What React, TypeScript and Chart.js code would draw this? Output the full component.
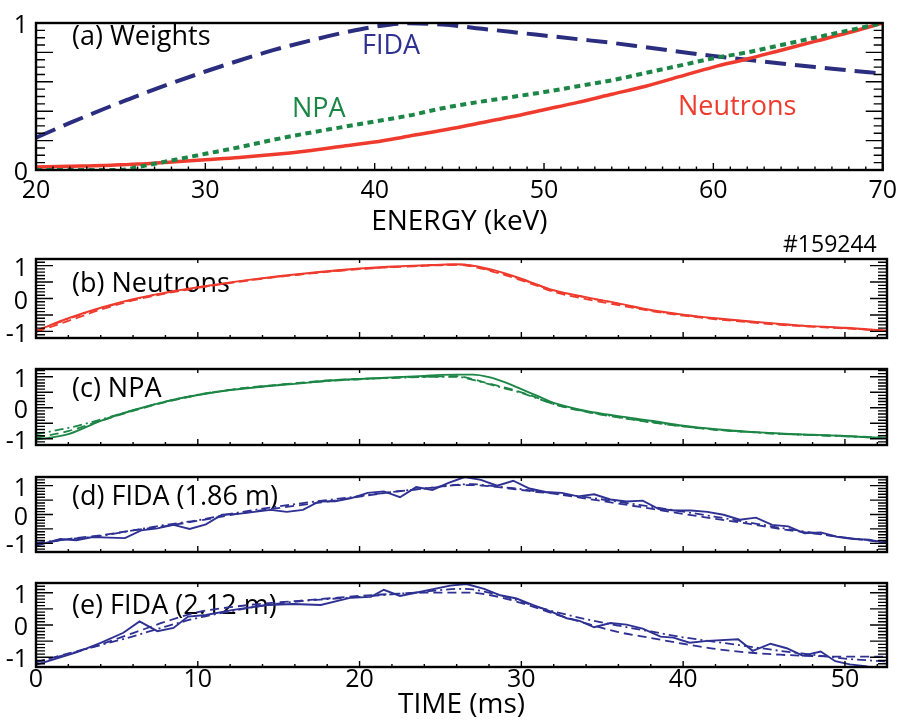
import React, { useEffect, useRef } from "react";
import { Chart, registerables } from "chart.js";
Chart.register(...registerables);

const FONT = '"Open Sans", "DejaVu Sans", sans-serif';
const RED = "#ee3b2d";
const GREEN = "#1c8646";
const NAVY = "#2e3192";
const NAVY_A = "#2b2e7e";

// ---------- Panel (a): weight functions vs energy ----------
const energy = [20, 22, 24, 25, 26, 28, 30, 32, 34, 36, 38, 40, 42, 44, 46, 48, 50, 52, 54, 56, 58, 60, 62, 64, 66, 68, 70];
const fidaWeight = [0.22, 0.32, 0.415, 0.46, 0.505, 0.59, 0.67, 0.745, 0.815, 0.875, 0.93, 0.975, 0.998, 0.99, 0.965, 0.94, 0.915, 0.89, 0.865, 0.835, 0.805, 0.775, 0.75, 0.725, 0.7, 0.678, 0.656];
const npaWeight = [0, 0, 0, 0, 0.02, 0.065, 0.11, 0.155, 0.205, 0.25, 0.29, 0.33, 0.37, 0.42, 0.46, 0.495, 0.53, 0.57, 0.61, 0.66, 0.71, 0.76, 0.8, 0.85, 0.9, 0.95, 1.0];
const neutronWeight = [0.02, 0.025, 0.03, 0.035, 0.04, 0.055, 0.07, 0.085, 0.105, 0.13, 0.16, 0.19, 0.23, 0.27, 0.315, 0.36, 0.41, 0.46, 0.515, 0.57, 0.635, 0.7, 0.755, 0.815, 0.875, 0.935, 1.0];
const energyTicks = [20, 30, 40, 50, 60, 70];
const weightTicks = [0, 1];

// ---------- Panels (b)-(e): normalized signals vs time ----------
const timeGrid = [0, 2, 4, 6, 8, 10, 12, 14, 16, 18, 20, 22, 24, 25, 26, 27, 28, 29, 30, 31, 32, 34, 36, 38, 40, 42, 44, 46, 48, 50, 52.6];

const neutronSolid = [-0.98, -0.6, -0.28, -0.02, 0.18, 0.34, 0.49, 0.62, 0.73, 0.83, 0.91, 0.97, 1.01, 1.03, 1.04, 1.0, 0.9, 0.76, 0.6, 0.42, 0.25, 0.04, -0.15, -0.35, -0.49, -0.6, -0.69, -0.77, -0.84, -0.89, -0.98];
const neutronDash = [-1.02, -0.68, -0.34, -0.06, 0.15, 0.32, 0.47, 0.6, 0.71, 0.81, 0.89, 0.95, 0.99, 1.01, 1.02, 0.97, 0.85, 0.71, 0.55, 0.38, 0.2, -0.02, -0.2, -0.38, -0.52, -0.63, -0.72, -0.8, -0.86, -0.91, -0.99];
const neutronDashDot = [-0.98, -0.62, -0.3, -0.04, 0.17, 0.33, 0.48, 0.61, 0.72, 0.82, 0.9, 0.96, 1.0, 1.02, 1.03, 0.99, 0.87, 0.74, 0.58, 0.41, 0.23, 0.03, -0.16, -0.36, -0.5, -0.61, -0.7, -0.78, -0.85, -0.9, -0.98];

const npaSolid = [-1.03, -0.85, -0.42, -0.08, 0.2, 0.41, 0.57, 0.68, 0.77, 0.87, 0.93, 0.98, 1.03, 1.06, 1.07, 1.07, 0.99, 0.82, 0.6, 0.38, 0.16, -0.1, -0.27, -0.42, -0.58, -0.69, -0.77, -0.83, -0.87, -0.91, -0.98];
const npaDash = [-0.97, -0.75, -0.42, -0.1, 0.18, 0.41, 0.58, 0.7, 0.79, 0.88, 0.93, 0.97, 1.0, 1.01, 1.02, 0.92, 0.78, 0.65, 0.5, 0.32, 0.12, -0.13, -0.31, -0.47, -0.6, -0.71, -0.78, -0.84, -0.88, -0.91, -0.97];
const npaDashDot = [-0.85, -0.65, -0.38, -0.08, 0.2, 0.42, 0.58, 0.69, 0.78, 0.86, 0.92, 0.96, 0.99, 1.0, 1.0, 0.9, 0.76, 0.62, 0.48, 0.3, 0.12, -0.12, -0.3, -0.46, -0.6, -0.7, -0.78, -0.84, -0.88, -0.92, -0.98];

const fidaDTime = [0, 1.5, 2.5, 3.5, 4.5, 5.5, 6.5, 7.5, 8.5, 9.5, 10.5, 11.5, 12.5, 13.5, 14.5, 15.5, 16.5, 17.5, 18.5, 19.5, 20.5, 21.5, 22.5, 23.5, 24.5, 25.5, 26.5, 27.5, 28.5, 29.5, 30.5, 31.5, 32.5, 33.5, 34.5, 35.5, 36.5, 37.5, 38.5, 39.5, 40.5, 41.5, 42.5, 43.5, 44.5, 45.5, 46.5, 47.5, 48.5, 49.5, 50.5, 51.5, 52.5];
const fidaDSolid = [-1.08, -0.85, -0.89, -0.78, -0.8, -0.82, -0.55, -0.48, -0.36, -0.5, -0.34, -0.01, 0.02, 0.09, 0.16, 0.09, 0.16, 0.45, 0.46, 0.57, 0.75, 0.8, 0.6, 0.95, 0.85, 1.1, 1.3, 1.2, 1.0, 1.17, 0.9, 0.78, 0.75, 0.63, 0.7, 0.52, 0.45, 0.48, 0.19, 0.14, 0.14, 0.09, -0.01, -0.18, -0.11, -0.36, -0.41, -0.65, -0.62, -0.77, -0.85, -0.87, -0.99];
const fidaDDash = [-1.05, -0.85, -0.72, -0.55, -0.4, -0.22, -0.02, 0.15, 0.3, 0.45, 0.62, 0.78, 0.9, 0.97, 1.02, 1.02, 0.98, 0.92, 0.85, 0.78, 0.72, 0.55, 0.38, 0.2, 0.02, -0.15, -0.32, -0.5, -0.65, -0.8, -0.98];
const fidaDDashDot = [-0.98, -0.86, -0.74, -0.55, -0.36, -0.2, 0.02, 0.2, 0.36, 0.5, 0.64, 0.78, 0.9, 0.96, 1.03, 1.05, 1.0, 0.94, 0.88, 0.8, 0.74, 0.6, 0.44, 0.27, 0.1, -0.08, -0.27, -0.46, -0.63, -0.8, -0.95];

const fidaETime = [0, 2.5, 4, 5.4, 6.4, 7.5, 8.5, 9.4, 10.5, 12.2, 14.3, 15.9, 17.6, 19.4, 20.7, 21.5, 22.5, 23.7, 25.6, 26.6, 27.7, 28.7, 29.7, 30.7, 31.8, 32.8, 33.6, 34.5, 35.5, 36.5, 37.5, 38.6, 39.4, 40.4, 41.5, 43.4, 44.3, 45.4, 46.4, 47.4, 48.5, 49.4, 50.3, 51.4];
const fidaESolid = [-1.23, -0.85, -0.55, -0.24, 0.11, -0.19, -0.09, 0.26, 0.31, 0.47, 0.62, 0.65, 0.62, 0.84, 0.87, 1.09, 0.9, 1.02, 1.22, 1.27, 1.12, 0.92, 0.82, 0.62, 0.42, 0.21, 0.13, -0.07, 0.06, 0.01, -0.11, -0.36, -0.39, -0.55, -0.49, -0.44, -0.8, -0.58, -0.72, -0.95, -0.82, -1.12, -1.22, -1.28];
const fidaEDash = [-1.15, -0.88, -0.6, -0.25, 0.1, 0.4, 0.55, 0.66, 0.74, 0.82, 0.9, 0.96, 1.0, 1.0, 1.0, 1.0, 0.93, 0.82, 0.68, 0.52, 0.35, 0.05, -0.22, -0.4, -0.58, -0.74, -0.85, -0.92, -0.96, -0.98, -0.98];
const fidaEDashDot = [-1.15, -0.9, -0.62, -0.35, -0.05, 0.22, 0.42, 0.6, 0.72, 0.8, 0.87, 0.95, 1.03, 1.08, 1.12, 1.1, 1.0, 0.88, 0.72, 0.56, 0.42, 0.18, -0.02, -0.2, -0.38, -0.52, -0.66, -0.8, -0.92, -1.04, -1.13];

const timeTicks = [0, 10, 20, 30, 40, 50];
const signalTicks = [-1, 0, 1];

// ---------- helpers ----------
const pts = (xs: number[], ys: number[]) => xs.map((x, i) => ({ x, y: ys[i] }));

const DASH = [9, 5];
const DASHDOT = [9, 4, 2, 4];

function line(xs: number[], ys: number[], color: string, width: number, dash: number[], smooth: boolean) {
  return {
    data: pts(xs, ys),
    borderColor: color,
    borderWidth: width,
    borderDash: dash,
    pointRadius: 0,
    fill: false,
    tension: 0,
    cubicInterpolationMode: smooth ? "monotone" : "default",
  };
}

function triple(t: number[], solid: number[], tS: number[], dash: number[], dashdot: number[], color: string, smoothSolid: boolean) {
  return [
    line(t, dashdot, color, 1.8, DASHDOT, true),
    line(t, dash, color, 1.8, DASH, true),
    line(tS, solid, color, 1.9, [], smoothSolid),
  ];
}

type Txt = { text: string; x: number; y: number; color: string; size: number };

type Panel = {
  top: number;
  height: number;
  area: { left: number; right: number; top: number; bottom: number };
  xmin: number; xmax: number; ymin: number; ymax: number;
  xTicks: number[]; yTicks: number[];
  showX: boolean; xTitle?: string; xPad: number; titlePad: number;
  xMajor: number; xMinor: number; yMajor: number; yMinor: number;
  yMajLen: number; yMinLen: number; xMajLen: number; xMinLen: number; topTicks: boolean;
  datasets: any[];
  texts: Txt[];
};

const W = 903;
const LABEL = 27;

const panels: Panel[] = [
  {
    top: 0, height: 239,
    area: { left: 36, right: 887, top: 15, bottom: 170 },
    xmin: 20, xmax: 70, ymin: 0, ymax: 1,
    xTicks: energyTicks, yTicks: weightTicks,
    showX: true, xTitle: "ENERGY (keV)", xPad: 6, titlePad: 0,
    xMajor: 10, xMinor: 1, yMajor: 0.2, yMinor: 0.05,
    yMajLen: 17, yMinLen: 9, xMajLen: 7, xMinLen: 3.5, topTicks: false,
    datasets: [
      line(energy, npaWeight, GREEN, 4, [6, 4.5], true),
      line(energy, neutronWeight, RED, 3.5, [], true),
      line(energy, fidaWeight, NAVY_A, 4, [21, 9], true),
    ],
    texts: [
      { text: "(a) Weights", x: 72, y: 44.5, color: "#000", size: LABEL },
      { text: "FIDA", x: 362, y: 53.5, color: NAVY, size: LABEL },
      { text: "NPA", x: 292, y: 116.5, color: GREEN, size: LABEL },
      { text: "Neutrons", x: 678, y: 115, color: RED, size: LABEL },
    ],
  },
  {
    top: 226, height: 135,
    area: { left: 36, right: 887, top: 33, bottom: 119 },
    xmin: 0, xmax: 52.6, ymin: -1.2, ymax: 1.2,
    xTicks: timeTicks, yTicks: signalTicks,
    showX: false, xPad: 0, titlePad: 0,
    xMajor: 10, xMinor: 2, yMajor: 0.5, yMinor: 0.1,
    yMajLen: 17, yMinLen: 9, xMajLen: 6, xMinLen: 3, topTicks: true,
    datasets: triple(timeGrid, neutronSolid, timeGrid, neutronDash, neutronDashDot, RED, true),
    texts: [
      { text: "(b) Neutrons", x: 72, y: 292, color: "#000", size: LABEL },
      { text: "#159244", x: 783, y: 252, color: "#000", size: 23 },
    ],
  },
  {
    top: 346, height: 122,
    area: { left: 36, right: 887, top: 20, bottom: 106 },
    xmin: 0, xmax: 52.6, ymin: -1.2, ymax: 1.25,
    xTicks: timeTicks, yTicks: signalTicks,
    showX: false, xPad: 0, titlePad: 0,
    xMajor: 10, xMinor: 2, yMajor: 0.5, yMinor: 0.1,
    yMajLen: 17, yMinLen: 9, xMajLen: 6, xMinLen: 3, topTicks: true,
    datasets: triple(timeGrid, npaSolid, timeGrid, npaDash, npaDashDot, GREEN, true),
    texts: [{ text: "(c) NPA", x: 72, y: 397, color: "#000", size: LABEL }],
  },
  {
    top: 454, height: 121,
    area: { left: 36, right: 887, top: 20, bottom: 105 },
    xmin: 0, xmax: 52.6, ymin: -1.3, ymax: 1.3,
    xTicks: timeTicks, yTicks: signalTicks,
    showX: false, xPad: 0, titlePad: 0,
    xMajor: 10, xMinor: 2, yMajor: 0.5, yMinor: 0.1,
    yMajLen: 17, yMinLen: 9, xMajLen: 6, xMinLen: 3, topTicks: true,
    datasets: triple(timeGrid, fidaDSolid, fidaDTime, fidaDDash, fidaDDashDot, NAVY, false),
    texts: [{ text: "(d) FIDA (1.86 m)", x: 72, y: 505, color: "#000", size: LABEL }],
  },
  {
    top: 560, height: 162,
    area: { left: 36, right: 887, top: 20, bottom: 107 },
    xmin: 0, xmax: 52.6, ymin: -1.3, ymax: 1.3,
    xTicks: timeTicks, yTicks: signalTicks,
    showX: true, xTitle: "TIME (ms)", xPad: -2, titlePad: 0,
    xMajor: 10, xMinor: 2, yMajor: 0.5, yMinor: 0.1,
    yMajLen: 17, yMinLen: 9, xMajLen: 6, xMinLen: 3, topTicks: true,
    datasets: triple(timeGrid, fidaESolid, fidaETime, fidaEDash, fidaEDashDot, NAVY, false),
    texts: [{ text: "(e) FIDA (2.12 m)", x: 72, y: 613.5, color: "#000", size: LABEL }],
  },
];

function steps(min: number, max: number, step: number) {
  const out: number[] = [];
  const k0 = Math.ceil(min / step - 1e-9);
  const k1 = Math.floor(max / step + 1e-9);
  for (let k = k0; k <= k1; k++) out.push(k * step);
  return out;
}
const isMul = (v: number, m: number) => Math.abs(v / m - Math.round(v / m)) < 1e-6;

function framePlugin(p: Panel) {
  return {
    id: "frameTicks",
    beforeDatasetsDraw(chart: any) {
      const ctx = chart.ctx;
      ctx.save();
      for (const t of p.texts) {
        ctx.font = `${t.size}px ${FONT}`;
        ctx.fillStyle = t.color;
        ctx.textAlign = "left";
        ctx.textBaseline = "alphabetic";
        ctx.fillText(t.text, t.x, t.y - p.top);
      }
      ctx.restore();
    },
    afterDatasetsDraw(chart: any) {
      const { ctx, chartArea: a } = chart;
      const xs = chart.scales.x;
      const ys = chart.scales.y;
      ctx.save();
      ctx.strokeStyle = "#000";
      ctx.lineWidth = 1.4;
      ctx.beginPath();
      for (const v of steps(p.ymin, p.ymax, p.yMinor)) {
        const len = isMul(v, p.yMajor) ? p.yMajLen : p.yMinLen;
        const py = ys.getPixelForValue(v);
        ctx.moveTo(a.left, py);
        ctx.lineTo(a.left + len, py);
        ctx.moveTo(a.right, py);
        ctx.lineTo(a.right - len, py);
      }
      for (const v of steps(p.xmin, p.xmax, p.xMinor)) {
        const major = isMul(v, p.xMajor);
        const len = major ? p.xMajLen : p.xMinLen;
        const px = xs.getPixelForValue(v);
        ctx.moveTo(px, a.bottom);
        ctx.lineTo(px, a.bottom - len);
        if (p.topTicks && major) {
          ctx.moveTo(px, a.top);
          ctx.lineTo(px, a.top + 4);
        }
      }
      ctx.stroke();
      ctx.lineWidth = 2.4;
      ctx.strokeRect(a.left, a.top, a.right - a.left, a.bottom - a.top);
      ctx.restore();
    },
  };
}

function makeChart(canvas: HTMLCanvasElement, p: Panel) {
  const tickFont = { family: FONT, size: 25 };
  return new Chart(canvas, {
    type: "line",
    data: { datasets: p.datasets },
    options: {
      animation: false,
      responsive: false,
      devicePixelRatio: 1,
      layout: { padding: { left: 0, top: p.area.top, right: W - p.area.right, bottom: 0 } },
      plugins: { legend: { display: false }, tooltip: { enabled: false } },
      scales: {
        x: {
          type: "linear",
          min: p.xmin,
          max: p.xmax,
          grid: { display: false, drawTicks: false },
          border: { display: false },
          afterBuildTicks: (s: any) => {
            s.ticks = p.xTicks.map((v) => ({ value: v }));
          },
          afterFit: (s: any) => {
            s.height = p.height - p.area.bottom;
          },
          ticks: {
            display: p.showX,
            font: tickFont,
            color: "#000",
            padding: p.xPad,
            maxRotation: 0,
            autoSkip: false,
            callback: (v: any) => String(v),
          },
          title: {
            display: !!p.xTitle,
            text: p.xTitle || "",
            color: "#000",
            font: { family: FONT, size: 28 },
            padding: { top: 0, bottom: p.titlePad },
          },
        },
        y: {
          type: "linear",
          min: p.ymin,
          max: p.ymax,
          grid: { display: false, drawTicks: false },
          border: { display: false },
          afterBuildTicks: (s: any) => {
            s.ticks = p.yTicks.map((v) => ({ value: v }));
          },
          afterFit: (s: any) => {
            s.width = p.area.left;
          },
          ticks: {
            font: tickFont,
            color: "#000",
            padding: 8,
            labelOffset: 3,
            autoSkip: false,
            callback: (v: any) => String(v),
          },
        },
      },
    } as any,
    plugins: [framePlugin(p)],
  });
}

export default function App() {
  const refs = useRef<(HTMLCanvasElement | null)[]>([]);
  useEffect(() => {
    const charts = panels.map((p, i) => makeChart(refs.current[i] as HTMLCanvasElement, p));
    return () => charts.forEach((c) => c.destroy());
  }, []);
  return (
    <div style={{ position: "absolute", left: 0, top: 0, width: W, height: 722, background: "#fff", overflow: "hidden" }}>
      {panels.map((p, i) => (
        <canvas
          key={i}
          ref={(el) => {
            refs.current[i] = el;
          }}
          width={W}
          height={p.height}
          style={{ position: "absolute", left: 0, top: p.top, width: W, height: p.height }}
        />
      ))}
    </div>
  );
}
